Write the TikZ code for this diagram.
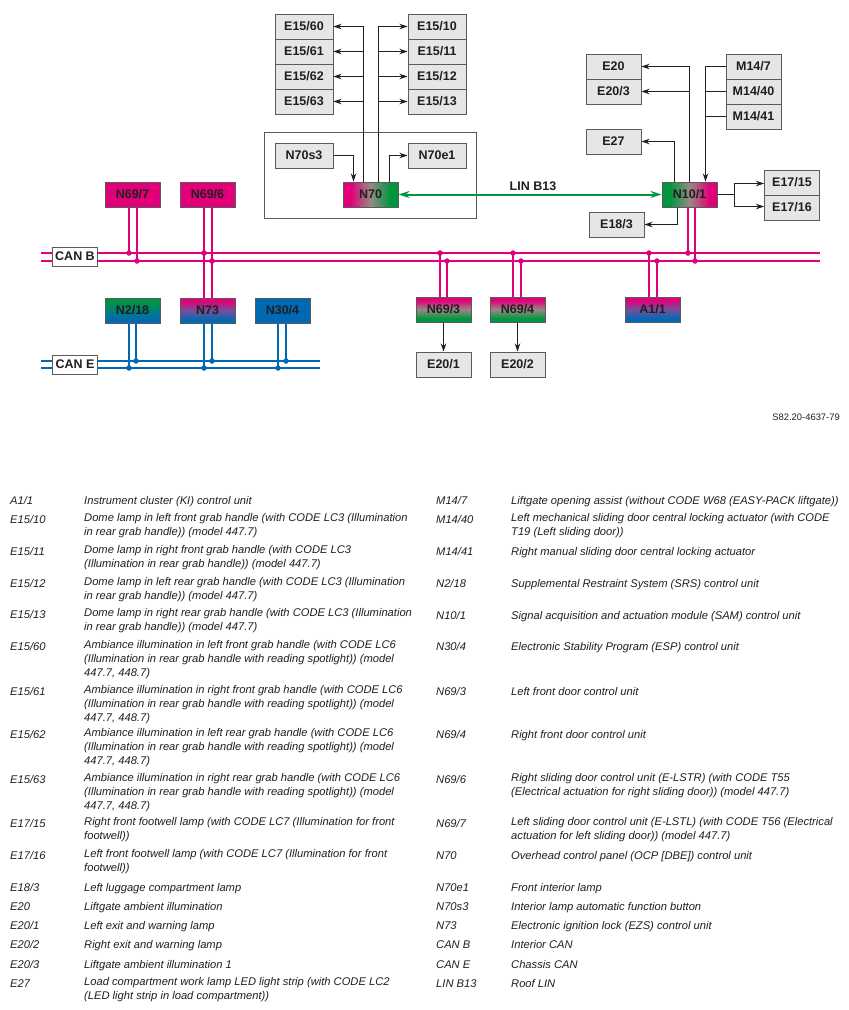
\documentclass[tikz,border=0pt]{standalone}
\usepackage{fontspec}
\setmainfont{Liberation Sans}
\usepackage{xcolor}
\usetikzlibrary{arrows.meta}
\definecolor{canbcol}{HTML}{E2007A}
\definecolor{canecol}{HTML}{0069B4}
\definecolor{lincol}{HTML}{009640}
\definecolor{boxgray}{HTML}{E6E6E8}
\definecolor{edgegray}{HTML}{5A5A5A}
\definecolor{inkcol}{HTML}{1F1F1F}
\definecolor{midgray}{HTML}{968A84}
\definecolor{midpurple}{HTML}{74509A}
\pgfdeclareverticalshading{magentagreen}{100bp}{color(0bp)=(lincol); color(32bp)=(lincol); color(50bp)=(midgray); color(68bp)=(canbcol); color(100bp)=(canbcol)}
\pgfdeclareverticalshading{magentablue}{100bp}{color(0bp)=(canecol); color(31bp)=(canecol); color(50bp)=(midpurple); color(69bp)=(canbcol); color(100bp)=(canbcol)}
\pgfdeclareverticalshading{greenblue}{100bp}{color(0bp)=(canecol); color(31bp)=(canecol); color(69bp)=(lincol); color(100bp)=(lincol)}
\tikzset{
  unit/.style={draw=edgegray,line width=1pt,minimum width=#1,minimum height=25pt,inner sep=0pt,
    text=inkcol,font=\fontsize{12.5}{14}\selectfont\bfseries},
  unit/.default=55pt,
  plainunit/.style={unit=#1,fill=boxgray},
  plainunit/.default=55pt,
  canbunit/.style={unit,fill=canbcol},
  caneunit/.style={unit,fill=canecol},
  busbox/.style={draw=edgegray,fill=white,line width=1pt,minimum width=45pt,minimum height=19pt,inner sep=0pt,
    text=inkcol,font=\fontsize{12.5}{14}\selectfont\bfseries},
  wire/.style={draw=inkcol,line width=1pt},
  wirearrow/.style={wire,-{Stealth[length=8pt,width=5.5pt]}},
  canb/.style={draw=canbcol,line width=2pt},
  cane/.style={draw=canecol,line width=2pt},
  joint/.style={circle,inner sep=0pt,minimum size=5.5pt},
  keycode/.style={anchor=north west,yshift=9.5pt,inner sep=0pt,text=inkcol,
    font=\fontsize{11.17}{13.6}\selectfont\itshape,execute at begin node=\strut},
  keytext/.style={keycode,align=left},
}
\begin{document}
\begin{tikzpicture}[x=1pt,y=-1pt]
\useasboundingbox (0,0) rectangle (849,1010);

% overhead panel
\draw[edgegray,line width=1pt] (264.5,132.5) rectangle (476.5,218.5);
\node[plainunit=58pt] (E1560) at (304,26.5) {E15/60};
\node[plainunit=58pt] (E1561) at (304,51.5) {E15/61};
\node[plainunit=58pt] (E1562) at (304,76.5) {E15/62};
\node[plainunit=58pt] (E1563) at (304,101.5) {E15/63};
\node[plainunit=58pt] (E1510) at (437,26.5) {E15/10};
\node[plainunit=58pt] (E1511) at (437,51.5) {E15/11};
\node[plainunit=58pt] (E1512) at (437,76.5) {E15/12};
\node[plainunit=58pt] (E1513) at (437,101.5) {E15/13};
\node[plainunit=58pt] (N70s3) at (304,155.5) {N70s3};
\node[plainunit=58pt] (N70e1) at (437,155.5) {N70e1};
\node[unit,shading=magentagreen,shading angle=90] (N70) at (370.5,194.5) {N70};

% right hand group
\node[plainunit] (E20) at (613.5,66.5) {E20};
\node[plainunit] (E203) at (613.5,91.5) {E20/3};
\node[plainunit] (E27) at (613.5,141.5) {E27};
\node[plainunit] (E183) at (616.5,224.5) {E18/3};
\node[plainunit] (M147) at (753.5,66.5) {M14/7};
\node[plainunit] (M1440) at (753.5,91.5) {M14/40};
\node[plainunit] (M1441) at (753.5,116.5) {M14/41};
\node[plainunit] (E1715) at (792,182.5) {E17/15};
\node[plainunit] (E1716) at (792,207.5) {E17/16};
\node[unit,shading=magentagreen,shading angle=-90] (N101) at (689.5,194.5) {N10/1};

% bus modules
\node[canbunit] (N697) at (132.5,194.5) {N69/7};
\node[canbunit] (N696) at (207.5,194.5) {N69/6};
\node[unit,shading=greenblue] (N218) at (132.5,310.5) {N2/18};
\node[unit,shading=magentablue] (N73) at (207.5,310.5) {N73};
\node[caneunit] (N304) at (282.5,310.5) {N30/4};
\node[unit,shading=magentagreen] (N693) at (443.5,309.5) {N69/3};
\node[unit,shading=magentagreen] (N694) at (517.5,309.5) {N69/4};
\node[unit,shading=magentablue] (A11) at (652.5,309.5) {A1/1};
\node[plainunit] (E201) at (443.5,364.5) {E20/1};
\node[plainunit] (E202) at (517.5,364.5) {E20/2};

% overhead wiring
\foreach \tgt in {E1560,E1561,E1562,E1563}
  \draw[wirearrow] ([xshift=-7pt]N70.north) |- (\tgt.east);
\foreach \tgt in {E1510,E1511,E1512,E1513}
  \draw[wirearrow] ([xshift=8pt]N70.north) |- (\tgt.west);
\draw[wirearrow] (N70s3.east) -| ([xshift=-17pt]N70.north);
\draw[wirearrow] ([xshift=19pt]N70.north) |- (N70e1.west);

% right wiring
\foreach \tgt in {E20,E203}
  \draw[wirearrow] (N101.north) |- (\tgt.east);
\draw[wirearrow] ([xshift=-15pt]N101.north) |- (E27.east);
\draw[wirearrow] ([xshift=-12pt]N101.south) |- (E183.east);
\coordinate (mdrop) at ([xshift=16pt]N101.north);
\draw[wirearrow] (M147.west) -| (mdrop);
\foreach \src in {M1440,M1441}
  \draw[wire] (\src.west) -- (\src.west -| mdrop);
\coordinate (split) at (734.5,194.5);
\draw[wire] (N101.east) -- (split);
\draw[wirearrow] (split) |- ([yshift=-1pt]E1715.west);
\draw[wirearrow] (split) |- ([yshift=1pt]E1716.west);
\draw[wirearrow] (N693.south) -- (E201.north);
\draw[wirearrow] (N694.south) -- (E202.north);

% LIN
\draw[draw=lincol,line width=2pt,{Stealth[length=11pt,width=7pt]}-{Stealth[length=11pt,width=7pt]}] (N70.east) -- (N101.west)
  node[midway,above=2.5pt,inner sep=0pt,text=inkcol,font=\fontsize{12.5}{14}\selectfont\bfseries,xshift=3pt] (linlabel) {LIN B13};

% CAN buses
\coordinate (canbfrom) at (41,253);
\coordinate (canbto) at (820,253);
\coordinate (cancfrom) at (41,261);
\coordinate (cancto) at (820,261);
\coordinate (canefrom) at (41,361);
\coordinate (caneto) at (320,361);
\coordinate (canffrom) at (41,368);
\coordinate (canfto) at (320,368);
\draw[canb] (canbfrom) -- (canbto);
\draw[canb] (cancfrom) -- (cancto);
\draw[cane] (canefrom) -- (caneto);
\draw[cane] (canffrom) -- (canfto);
\node[busbox] (canbbox) at (75,256.5) {CAN B};
\node[busbox] (canebox) at (75,364.5) {CAN E};

% stubs to CAN B
\foreach \mod/\xa/\xb in {N697/-3.5/4.5,N696/-3.5/4.5,N101/-1.5/5.5}
{
  \draw[canb] ([xshift=\xa pt]\mod.south) -- ([xshift=\xa pt]\mod.south |- canbfrom) node[joint,fill=canbcol] (j\mod a) {};
  \draw[canb] ([xshift=\xb pt]\mod.south) -- ([xshift=\xb pt]\mod.south |- cancfrom) node[joint,fill=canbcol] (j\mod b) {};
}
\foreach \mod/\xa/\xb in {A11/-3.5/4.5,N693/-3.5/3.5,N694/-4.5/3.5,N73/-3.5/4.5}
{
  \draw[canb] ([xshift=\xa pt]\mod.north) -- ([xshift=\xa pt]\mod.north |- canbfrom) node[joint,fill=canbcol] (k\mod a) {};
  \draw[canb] ([xshift=\xb pt]\mod.north) -- ([xshift=\xb pt]\mod.north |- cancfrom) node[joint,fill=canbcol] (k\mod b) {};
}

% stubs to CAN E
\foreach \mod/\xa/\xb in {N218/-3.5/3.5,N73/-3.5/4.5,N304/-4.5/3.5}
{
  \draw[cane] ([xshift=\xa pt]\mod.south) -- ([xshift=\xa pt]\mod.south |- canffrom) node[joint,fill=canecol] (e\mod a) {};
  \draw[cane] ([xshift=\xb pt]\mod.south) -- ([xshift=\xb pt]\mod.south |- canefrom) node[joint,fill=canecol] (e\mod b) {};
}

\node[anchor=east,inner sep=0pt,text=inkcol,font=\fontsize{9.4}{11}\selectfont] (docref) at (840,417) {S82.20-4637-79};

% key, left column
\foreach \i/\code/\desc/\ypos in {
  1/{A1/1}/{Instrument cluster (KI) control unit}/504,
  2/{E15/10}/{Dome lamp in left front grab handle (with CODE LC3 (Illumination\\in rear grab handle)) (model 447.7)}/523,
  3/{E15/11}/{Dome lamp in right front grab handle (with CODE LC3\\(Illumination in rear grab handle)) (model 447.7)}/555,
  4/{E15/12}/{Dome lamp in left rear grab handle (with CODE LC3 (Illumination\\in rear grab handle)) (model 447.7)}/587,
  5/{E15/13}/{Dome lamp in right rear grab handle (with CODE LC3 (Illumination\\in rear grab handle)) (model 447.7)}/618,
  6/{E15/60}/{Ambiance illumination in left front grab handle (with CODE LC6\\(Illumination in rear grab handle with reading spotlight)) (model\\447.7, 448.7)}/650,
  7/{E15/61}/{Ambiance illumination in right front grab handle (with CODE LC6\\(Illumination in rear grab handle with reading spotlight)) (model\\447.7, 448.7)}/695,
  8/{E15/62}/{Ambiance illumination in left rear grab handle (with CODE LC6\\(Illumination in rear grab handle with reading spotlight)) (model\\447.7, 448.7)}/738,
  9/{E15/63}/{Ambiance illumination in right rear grab handle (with CODE LC6\\(Illumination in rear grab handle with reading spotlight)) (model\\447.7, 448.7)}/783,
  10/{E17/15}/{Right front footwell lamp (with CODE LC7 (Illumination for front\\footwell))}/827,
  11/{E17/16}/{Left front footwell lamp (with CODE LC7 (Illumination for front\\footwell))}/859,
  12/{E18/3}/{Left luggage compartment lamp}/891,
  13/{E20}/{Liftgate ambient illumination}/910,
  14/{E20/1}/{Left exit and warning lamp}/929,
  15/{E20/2}/{Right exit and warning lamp}/948,
  16/{E20/3}/{Liftgate ambient illumination 1}/968,
  17/{E27}/{Load compartment work lamp LED light strip (with CODE LC2\\(LED light strip in load compartment))}/987}
{
  \node[keycode] (lcode\i) at (10,\ypos) {\code};
  \node[keytext] (ltext\i) at (84,\ypos) {\desc};
}

% key, right column
\foreach \i/\code/\desc/\ypos in {
  1/{M14/7}/{Liftgate opening assist (without CODE W68 (EASY-PACK liftgate))}/504,
  2/{M14/40}/{Left mechanical sliding door central locking actuator (with CODE\\T19 (Left sliding door))}/523,
  3/{M14/41}/{Right manual sliding door central locking actuator}/555,
  4/{N2/18}/{Supplemental Restraint System (SRS) control unit}/587,
  5/{N10/1}/{Signal acquisition and actuation module (SAM) control unit}/619,
  6/{N30/4}/{Electronic Stability Program (ESP) control unit}/650,
  7/{N69/3}/{Left front door control unit}/695,
  8/{N69/4}/{Right front door control unit}/738,
  9/{N69/6}/{Right sliding door control unit (E-LSTR) (with CODE T55\\(Electrical actuation for right sliding door)) (model 447.7)}/783,
  10/{N69/7}/{Left sliding door control unit (E-LSTL) (with CODE T56 (Electrical\\actuation for left sliding door)) (model 447.7)}/827,
  11/{N70}/{Overhead control panel (OCP [DBE]) control unit}/859,
  12/{N70e1}/{Front interior lamp}/891,
  13/{N70s3}/{Interior lamp automatic function button}/910,
  14/{N73}/{Electronic ignition lock (EZS) control unit}/929,
  15/{CAN B}/{Interior CAN}/948,
  16/{CAN E}/{Chassis CAN}/968,
  17/{LIN B13}/{Roof LIN}/987}
{
  \node[keycode] (rcode\i) at (436,\ypos) {\code};
  \node[keytext] (rtext\i) at (511,\ypos) {\desc};
}
\end{tikzpicture}
\end{document}
